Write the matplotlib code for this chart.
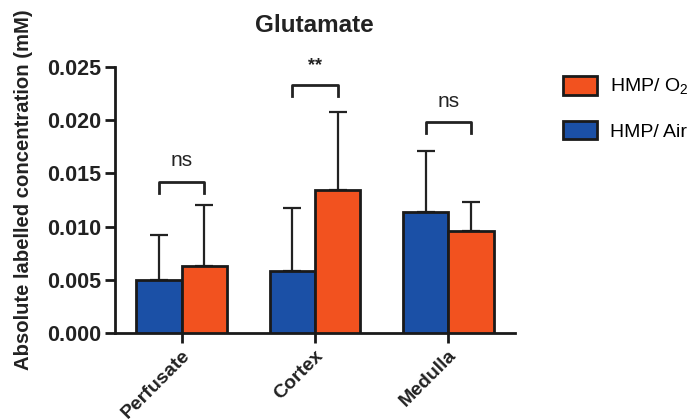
import matplotlib
matplotlib.use("Agg")
import matplotlib.pyplot as plt
import numpy as np
from matplotlib.patches import Patch

plt.rcParams['font.family'] = ['Liberation Sans', 'DejaVu Sans']
plt.rcParams['mathtext.fontset'] = 'custom'
plt.rcParams['mathtext.rm'] = 'Liberation Sans'

categories = ["Perfusate", "Cortex", "Medulla"]
air_mean = [0.0050, 0.0058, 0.0114]
air_err = [0.0042, 0.0060, 0.0057]
o2_mean = [0.0063, 0.0134, 0.0096]
o2_err = [0.0057, 0.0074, 0.0027]
sig_labels = ["ns", "**", "ns"]
bracket_y = [0.0142, 0.0233, 0.0198]

blue = "#1b50a6"
orange = "#f2521f"
ink = "#1a1a1a"

fig = plt.figure(figsize=(6.92, 4.19), dpi=100)
ax = fig.add_axes([0.166, 0.205, 0.578, 0.635])

x = np.arange(len(categories))
w = 0.34
lw = 2.0
ax.bar(x - w/2, air_mean, w, color=blue, edgecolor=ink, linewidth=lw, zorder=3)
ax.bar(x + w/2, o2_mean, w, color=orange, edgecolor=ink, linewidth=lw, zorder=3)
ax.errorbar(x - w/2, air_mean, yerr=[np.zeros(3), air_err], fmt="none", ecolor="#222222",
            elinewidth=1.6, capsize=6.5, capthick=1.6, zorder=2)
ax.errorbar(x + w/2, o2_mean, yerr=[np.zeros(3), o2_err], fmt="none", ecolor="#222222",
            elinewidth=1.6, capsize=6.5, capthick=1.6, zorder=2)

for i, (lab, by) in enumerate(zip(sig_labels, bracket_y)):
    x0, x1 = i - w/2, i + w/2
    leg = 0.001
    ax.plot([x0, x0, x1, x1], [by - leg, by, by, by - leg], color="#222222", lw=2.0,
            clip_on=False, zorder=4)
    if lab == "**":
        ax.text(i, by + 0.0010, lab, ha="center", va="bottom", fontsize=13,
                fontweight="bold", color="#222222")
    else:
        ax.text(i, by + 0.0011, lab, ha="center", va="bottom", fontsize=15,
                color="#222222")

ax.set_xlim(-0.5, 2.5)
ax.set_ylim(0, 0.025)
ax.set_yticks([0, 0.005, 0.010, 0.015, 0.020, 0.025])
ax.set_yticklabels(["0.000", "0.005", "0.010", "0.015", "0.020", "0.025"],
                   fontsize=15.5, fontweight="bold")
ax.set_xticks(x)
ax.set_xticklabels(categories, rotation=45, ha="right", rotation_mode="anchor",
                   fontsize=14, fontweight="bold")
for sp in ["top", "right"]:
    ax.spines[sp].set_visible(False)
for sp in ["left", "bottom"]:
    ax.spines[sp].set_linewidth(2.0)
    ax.spines[sp].set_color(ink)
ax.tick_params(axis="both", width=2.0, length=7, color=ink, labelcolor="#222222")
ax.tick_params(axis="y", pad=3)
ax.tick_params(axis="x", pad=3)

ax.set_ylabel("Absolute labelled concentration (mM)", fontsize=14.6, fontweight="bold",
              color="#222222")
ax.yaxis.set_label_coords(-0.205, 0.538)
ax.set_title("Glutamate", fontsize=17.5, fontweight="bold", color="#222222", pad=25)

handles = [Patch(facecolor=orange, edgecolor=ink, linewidth=2.0, label="HMP/ O$_2$"),
           Patch(facecolor=blue, edgecolor=ink, linewidth=2.0, label="HMP/ Air")]
fig.legend(handles=handles, loc="upper left", bbox_to_anchor=(0.8136, 0.818), frameon=False,
           fontsize=14, handlelength=1.75, handleheight=1.08, labelspacing=1.2,
           handletextpad=0.67, borderpad=0, borderaxespad=0)

fig.savefig("out.png", dpi=100)
